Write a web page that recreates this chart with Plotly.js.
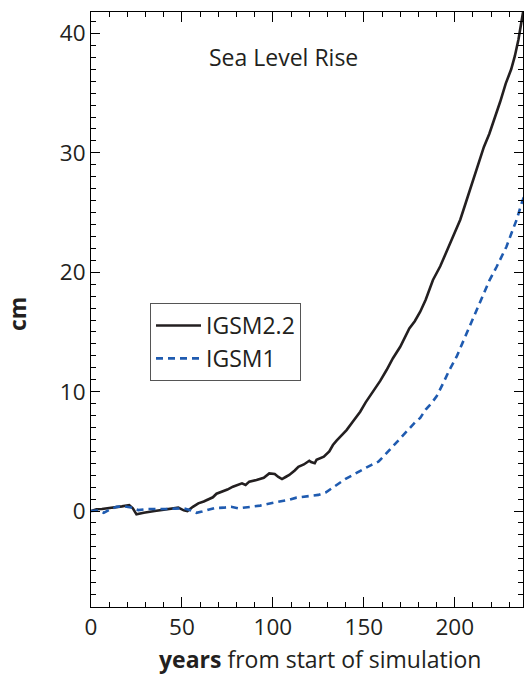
<!DOCTYPE html>
<html>
<head>
<meta charset="utf-8">
<script src="https://cdn.plot.ly/plotly-3.0.1.min.js"></script>
<style>html,body{margin:0;padding:0;background:#fff;}#chart{width:526px;height:675px;}</style>
</head>
<body>
<div id="chart"></div>
<script>
// IGSM2.2 (solid black)
const yearsIGSM22 = [0,3,6,9,12,17,21,23,25,29,35,39,42,46,48,51,53,56,59,62,64,67,69,72,75,78,81,83,85,87,91,95,98,101,103,105,107,109,112,114,117,120,121,123,124,126,128,131,133,135,138,140.5,144,148,151,155,159,162.5,166,170,173,175,178,181,184,188,192,195,199,203,206,210,213,216,219,222,225,228,231,233,235,237,238];
const seaIGSM22 = [0,0.15,0.17,0.22,0.3,0.39,0.5,0.22,-0.28,-0.14,0,0.08,0.14,0.22,0.28,0.06,0,0.35,0.64,0.8,0.92,1.15,1.45,1.6,1.8,2.04,2.2,2.32,2.18,2.46,2.6,2.79,3.15,3.1,2.85,2.68,2.85,3.02,3.4,3.71,3.9,4.21,4.1,4.0,4.3,4.41,4.55,5.0,5.53,5.9,6.4,6.78,7.5,8.32,9.1,9.99,10.9,11.81,12.8,13.76,14.7,15.3,15.9,16.69,17.7,19.35,20.5,21.58,22.9,24.4,25.8,27.72,29.2,30.5,31.6,32.9,34.3,35.8,37.0,38.1,39.5,41.3,42.2];
// IGSM1 (dashed blue)
const yearsIGSM1 = [0,4,7,10,14,18,22,26,31,36,41,46,51,55,58,61,64,68,73,77,81,85,89,93,97,101,105,109,113,117,121,125,129,132,136,140,144,147,150.5,154,158,161,164,167,170,173,175.5,178,181,184,187,190,193.6,197,201,204,208,212,215.6,219,223,226,228.4,231,234,237,238];
const seaIGSM1 = [0,0.05,-0.15,0.1,0.35,0.4,0.3,0.08,0.17,0.15,0.17,0.2,0.22,0.05,-0.15,-0.05,0.08,0.25,0.28,0.35,0.22,0.3,0.36,0.45,0.59,0.7,0.78,0.95,1.12,1.2,1.26,1.35,1.55,1.85,2.3,2.7,3.02,3.3,3.57,3.85,4.13,4.6,5.11,5.6,6.09,6.6,7.0,7.4,7.8,8.5,9.0,9.6,10.7,11.8,12.93,14.0,15.44,16.9,18.23,19.3,20.46,21.4,22.14,23.2,24.4,25.9,26.3];
const seriesNames = ["IGSM2.2","IGSM1"];
const xTickVals = [0,50,100,150,200];
const yTickVals = [0,10,20,30,40];

const FONT = "'Open Sans', sans-serif";
const INK = "#231f20";
const BLUE = "#1f5bb0";

const traces = [
  {x: yearsIGSM22, y: seaIGSM22, type: "scatter", mode: "lines", name: seriesNames[0],
   line: {color: INK, width: 2.6}},
  {x: yearsIGSM1, y: seaIGSM1, type: "scatter", mode: "lines", name: seriesNames[1],
   line: {color: BLUE, width: 2.6, dash: "7px,5px"}}
];

const axisCommon = {
  showgrid: false, zeroline: false, showline: true, linecolor: "#000", linewidth: 1,
  mirror: "ticks", ticks: "inside", ticklen: 10, tickwidth: 1, tickcolor: "#000",
  tickfont: {family: FONT, size: 22.5, color: INK}
};

const layout = {
  width: 526, height: 675,
  margin: {l: 91, r: 3, t: 12, b: 68},
  paper_bgcolor: "#fff", plot_bgcolor: "#fff",
  showlegend: true,
  legend: {
    x: (150 - 91) / 432, y: (607 - 303) / 595, xanchor: "left", yanchor: "top",
    bordercolor: "#555", borderwidth: 1, bgcolor: "#fff",
    font: {family: FONT, size: 23, color: INK},
    itemwidth: 45, tracegroupgap: 0, entrywidth: 150
  },
  xaxis: Object.assign({}, axisCommon, {
    range: [0, 237.5], tickvals: xTickVals, ticktext: xTickVals.map(String),
    minor: {dtick: 10, tick0: 0, ticks: "inside", ticklen: 5, tickcolor: "#000", showgrid: false}
  }),
  yaxis: Object.assign({}, axisCommon, {
    range: [-8.04, 41.8], tickvals: yTickVals, ticktext: yTickVals.map(String),
    ticklen: 9,
    minor: {dtick: 1, tick0: 0, ticks: "inside", ticklen: 5, tickcolor: "#000", showgrid: false}
  }),
  annotations: [
    {text: "Sea Level Rise", xref: "paper", yref: "paper", x: (283 - 91) / 432, y: (607 - 57) / 595,
     xanchor: "center", yanchor: "middle", showarrow: false, font: {family: FONT, size: 23, color: INK}},
    {text: "<b>years</b> from start of simulation", xref: "paper", yref: "paper",
     x: (320 - 91) / 432, y: -(659 - 607) / 595, xanchor: "center", yanchor: "middle",
     showarrow: false, font: {family: FONT, size: 23, color: INK}},
    {text: "<b>cm</b>", xref: "paper", yref: "paper", x: -(91 - 17) / 432, y: (607 - 314) / 595,
     xanchor: "center", yanchor: "middle", textangle: -90, showarrow: false,
     font: {family: FONT, size: 23, color: INK}}
  ]
};

Plotly.newPlot("chart", traces, layout, {displayModeBar: false, staticPlot: true});
</script>
</body>
</html>
